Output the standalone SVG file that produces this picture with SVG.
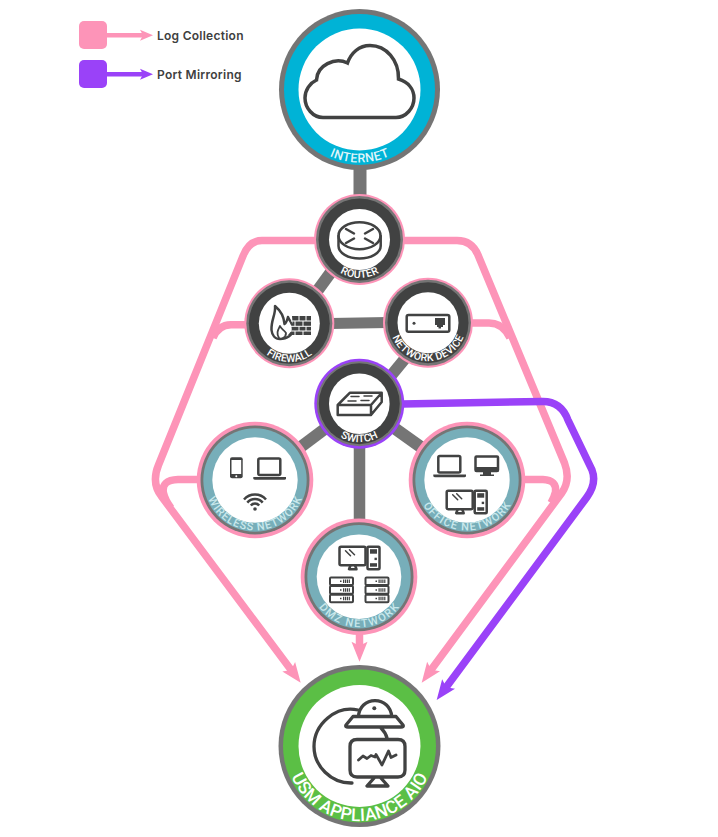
<svg xmlns="http://www.w3.org/2000/svg" width="718" height="837" viewBox="0 0 718 837">
<style>
.bg{fill:#fff}
.pk{fill:#fd94b8}.pu{fill:#9a42f8}.gr{fill:#757575}.dk{fill:#414242}.te{fill:#77aeb9}.wh{fill:#fff}
.cy{fill:#00b3d6}.gn{fill:#5bbf45}
.lp{fill:none;stroke:#fd94b8;stroke-width:7.500}
.lv{fill:none;stroke:#9a42f8;stroke-width:7.500}
.lg{fill:none;stroke:#757575}
.ic{fill:none;stroke:#414242;stroke-width:2.500;stroke-linejoin:round;stroke-linecap:round}
.if{fill:#414242;stroke:none}
.ck{font-family:"Roboto","Liberation Sans",sans-serif;font-weight:500;text-anchor:middle}
.lt{font-family:"Inter","Liberation Sans",sans-serif;font-weight:600;font-size:12px;fill:#3f3f3f}
.tw{fill:#fff;font-size:10.500px}
.tt{fill:#c9e8ec;font-size:11px}
</style>
<defs>
<marker id="hp" markerUnits="userSpaceOnUse" markerWidth="24" markerHeight="20" refX="5" refY="8" orient="auto" overflow="visible"><path d="M20,8L0,0L4,8L0,16Z" fill="#fd94b8"/></marker>
<marker id="hv" markerUnits="userSpaceOnUse" markerWidth="24" markerHeight="20" refX="5" refY="8" orient="auto" overflow="visible"><path d="M20,8L0,0L4,8L0,16Z" fill="#9a42f8"/></marker>
<marker id="lp" markerUnits="userSpaceOnUse" markerWidth="16" markerHeight="14" refX="3" refY="6" orient="auto" overflow="visible"><path d="M13,6L0,0.500L3,6L0,11.500Z" fill="#fd94b8"/></marker>
<marker id="lv" markerUnits="userSpaceOnUse" markerWidth="16" markerHeight="14" refX="3" refY="6" orient="auto" overflow="visible"><path d="M13,6L0,0.500L3,6L0,11.500Z" fill="#9a42f8"/></marker>
<path id="a-int" d="M359.500,16.500A73,73 0 0 0 359.500,162.500A73,73 0 0 0 359.500,16.500"/>
<path id="a-rou" d="M359.500,201A38.500,38.500 0 0 0 359.500,278A38.500,38.500 0 0 0 359.500,201"/>
<path id="a-fir" d="M289.300,285A38.500,38.500 0 0 0 289.300,362A38.500,38.500 0 0 0 289.300,285"/>
<path id="a-net" d="M428,284.200A38.500,38.500 0 0 0 428,361.200A38.500,38.500 0 0 0 428,284.200"/>
<path id="a-swi" d="M359.300,365.200A38.500,38.500 0 0 0 359.300,442.200A38.500,38.500 0 0 0 359.300,365.200"/>
<path id="a-wir" d="M255,429.500A50.500,50.500 0 0 0 255,530.500A50.500,50.500 0 0 0 255,429.500"/>
<path id="a-off" d="M467,429.500A50.500,50.500 0 0 0 467,530.500A50.500,50.500 0 0 0 467,429.500"/>
<path id="a-dmz" d="M359,526.200A50.500,50.500 0 0 0 359,627.200A50.500,50.500 0 0 0 359,526.200"/>
<path id="a-usm" d="M359.500,671A75,75 0 0 0 359.500,821A75,75 0 0 0 359.500,671"/>
<g id="laptop"><rect class="ic" x="5" y="0" width="22" height="16.500" rx="1.500"/><path class="if" d="M0,18.500H32.700V20Q32.700,21.200 31,21.200H2Q0,21.200 0,20Z"/></g>
<g id="pc"><rect class="ic" x="0" y="0" width="26" height="18.500" rx="1.500"/><path class="ic" style="stroke-width:1.500" d="M6,4L11,9M10,3L15,8"/><path class="ic" d="M11,18.500L9.500,22.500H17L15.500,18.500"/><rect class="ic" x="28" y="0" width="12" height="22.500" rx="1"/><rect class="if" x="30.500" y="2.500" width="7" height="4.500"/><rect class="if" x="35" y="11" width="2.400" height="2.400"/><rect class="if" x="30.500" y="16.500" width="7" height="3.500"/></g>
<g id="rack"><rect class="ic" style="stroke-width:2" x="0" y="0" width="23" height="7.600" rx="1"/><rect class="ic" style="stroke-width:2" x="0" y="8.600" width="23" height="7.600" rx="1"/><rect class="ic" style="stroke-width:2" x="0" y="17.200" width="23" height="7.600" rx="1"/><path d="M13,3.800H20.500M13,12.400H20.500M13,21H20.500" stroke="#414242" stroke-width="3.500" stroke-dasharray="1.200,.700" fill="none"/><path d="M10,3.800H11.500M10,12.400H11.500M10,21H11.500" stroke="#414242" stroke-width="1.500" fill="none"/></g>
</defs>
<rect class="bg" width="718" height="837"/>
<g id="connectors">
<path class="lg" stroke-width="13" d="M360,165V200"/>
<path class="lg" stroke-width="12" d="M334,268L315,294"/>
<path class="lg" stroke-width="11" d="M330,323.400L388,322.600"/>
<path class="lg" stroke-width="11.500" d="M408,355L385,383"/>
<path class="lg" stroke-width="12" d="M330,425L290,455"/>
<path class="lg" stroke-width="12" d="M390,425L432,455"/>
<path class="lg" stroke-width="11.500" d="M359.500,445V522"/>
<path class="lp" d="M320,240.500H262Q249,240.500 243,256L158.500,465Q151,483 161.700,496.700L291.700,670.700" marker-end="url(#hp)"/>
<path class="lp" d="M248,324.700H231Q218,325 213,338"/>
<path class="lp" d="M200,479.500H178Q161,480 163.500,493Q165,500 171,508"/>
<path class="lp" d="M400,240.500H457Q472,240.500 478,255L564.500,463Q571,480 561.700,493L430.600,670.600" marker-end="url(#hp)"/>
<path class="lp" d="M470,323H489Q503,323 510,338"/>
<path class="lp" d="M522,479.500H543Q557,480 555.500,492Q554,498 551,503"/>
<path class="lp" d="M359.500,633V646.700" marker-end="url(#hp)"/>
<path class="lv" d="M402,404L543,401.500Q561,401.500 568,420L592,470Q597,483 587,497L445.600,688" marker-end="url(#hv)"/>
</g>
<g id="legend-log"><rect class="pk" x="79" y="21" width="28" height="28" rx="5"/><path class="lp" style="stroke-width:4.500" d="M107,35.300H143" marker-end="url(#lp)"/><text class="lt" x="157" y="39.800" textLength="86.500">Log Collection</text></g>
<g id="legend-mirror"><rect class="pu" x="79" y="60" width="28" height="28" rx="5"/><path class="lv" style="stroke-width:4.500" d="M107,74.300H143" marker-end="url(#lv)"/><text class="lt" x="157" y="78.800" textLength="84.500">Port Mirroring</text></g>
<g id="internet"><circle class="gr" cx="359.500" cy="89.500" r="80.500"/><circle class="cy" cx="359.500" cy="89.500" r="75.500"/><circle class="wh" cx="359.500" cy="89.500" r="61"/>
<path fill="none" stroke="#414242" stroke-width="3.500" d="M323,117.500H396C406,117.500 414,108 414,98C414,89 408,82 398.500,79C399,60 386,45.500 370,45.500C359,45.500 351,53 347.500,63C335,57 317,65 316.500,80C310,83 305,90 305,98C305,108 313,117.500 323,117.500Z"/>
<text class="ck" fill="#dff5fa" font-size="12.500"><textPath href="#a-int" startOffset="50%" textLength="62">INTERNET</textPath></text></g>
<g id="router"><circle class="pk" cx="359.500" cy="239.500" r="45.500"/><circle class="gr" cx="359.500" cy="239.500" r="43.500"/><circle class="dk" cx="359.500" cy="239.500" r="41"/><circle class="wh" cx="359.500" cy="239.500" r="30.500"/>
<ellipse class="ic" cx="359.500" cy="235.700" rx="21" ry="13.500"/><path class="ic" d="M338.500,236V246C338.500,253 348,258.500 359.500,258.500C371,258.500 380.700,253 380.700,246V236"/><path class="ic" d="M346,229L354,233.500M373,229L365,233.500M346,243L354,238.500M373,243L365,238.500"/>
<text class="ck tw"><textPath href="#a-rou" startOffset="50%" textLength="41">ROUTER</textPath></text></g>
<g id="firewall"><circle class="pk" cx="289.300" cy="323.300" r="45"/><circle class="gr" cx="289.300" cy="323.300" r="43"/><circle class="dk" cx="289.300" cy="323.300" r="40.500"/><circle class="wh" cx="289.300" cy="323.300" r="30.500"/>
<path class="ic" d="M275,306C276,314 271,320 271.500,330C272,335 275,339 280,339C287,339 293,335 293,329C293,323 290,322 288,317C287,321 286,323 284.500,324C284,317 281,311 275,306Z"/><path class="ic" style="stroke-width:1.800" d="M279,338C276,333 278,330 280,326C281,329 284,330 286,333C286,335 285,337 283,338"/>
<path class="if" d="M292,316H311V335H288L293,329Z"/><path d="M291,321H311M289,326.300H311M288,331H311M299,316V321M306,316V321M295,321V326.300M303,321V326.300M299,326.300V331M306,326.300V331M295,331V335M303,331V335" stroke="#fff" stroke-width="1" fill="none"/>
<text class="ck tw"><textPath href="#a-fir" startOffset="50%" textLength="49">FIREWALL</textPath></text></g>
<g id="network-device"><circle class="pk" cx="428" cy="322.700" r="45"/><circle class="gr" cx="428" cy="322.700" r="43"/><circle class="dk" cx="428" cy="322.700" r="40.500"/><circle class="wh" cx="428" cy="322.700" r="30.500"/>
<rect class="ic" x="406.700" y="315" width="42.600" height="16.700" rx="1.800"/><circle class="if" cx="414" cy="323.300" r="1.500"/><path class="if" d="M435,318H445V325H443V327H441V328.500H438.500V327H437V325H435Z"/>
<text class="ck tw"><textPath href="#a-net" startOffset="50%" textLength="91">NETWORK DEVICE</textPath></text></g>
<g id="switch"><circle class="pu" cx="359.300" cy="403.700" r="45"/><circle class="gr" cx="359.300" cy="403.700" r="42.500"/><circle class="dk" cx="359.300" cy="403.700" r="40.500"/><circle class="wh" cx="359.300" cy="403.700" r="30.300"/>
<path class="ic" d="M350,392.700H381.700L371,405H337.700ZM337.700,405V415H371V405M371,415L381.700,402V392.700"/><path class="ic" style="stroke-width:1.500" d="M351,396.500H359M364,396H372M348,401H356M361,400.500H369"/>
<text class="ck tw"><textPath href="#a-swi" startOffset="50%" textLength="39.500">SWITCH</textPath></text></g>
<g id="wireless-network"><circle class="pk" cx="255" cy="480" r="58.300"/><circle class="gr" cx="255" cy="480" r="54.500"/><circle class="te" cx="255" cy="480" r="51.700"/><circle class="wh" cx="255" cy="480" r="42.700"/>
<rect class="if" x="230" y="457.300" width="12.700" height="21" rx="2"/><rect class="wh" x="231.500" y="460" width="9.700" height="14"/><circle class="wh" cx="236.300" cy="476.300" r="1"/>
<use href="#laptop" x="253.300" y="458.500"/>
<circle class="if" cx="255" cy="509" r="1.800"/><path fill="none" stroke="#414242" stroke-width="2.500" d="M250.800,505.500A5.500,5.500 0 0 1 259.200,505.500M247.300,502.600A10,10 0 0 1 262.700,502.600M244,499.500A14.500,14.500 0 0 1 266,499.500"/>
<text class="ck tt"><textPath href="#a-wir" startOffset="50%" textLength="120">WIRELESS NETWORK</textPath></text></g>
<g id="office-network"><circle class="pk" cx="467" cy="480" r="58.300"/><circle class="gr" cx="467" cy="480" r="54.500"/><circle class="te" cx="467" cy="480" r="51.700"/><circle class="wh" cx="467" cy="480" r="42.700"/>
<use href="#laptop" x="433.300" y="456"/>
<rect class="ic" x="475.500" y="456.500" width="22.500" height="14.500" rx="1"/><path class="if" d="M475,467H498.500V471.500H491V474.500H494V476H480V474.500H483V471.500H475Z"/>
<use href="#pc" x="446.700" y="490.700"/>
<text class="ck tt"><textPath href="#a-off" startOffset="50%" textLength="106">OFFICE NETWORK</textPath></text></g>
<g id="dmz-network"><circle class="pk" cx="359" cy="576.700" r="58.300"/><circle class="gr" cx="359" cy="576.700" r="54.500"/><circle class="te" cx="359" cy="576.700" r="51.700"/><circle class="wh" cx="359" cy="576.700" r="42.300"/>
<use href="#pc" x="339.500" y="546.700"/><use href="#rack" x="330" y="577.500"/><use href="#rack" x="365.500" y="577.500"/>
<text class="ck tt"><textPath href="#a-dmz" startOffset="50%" textLength="93">DMZ NETWORK</textPath></text></g>
<g id="usm-appliance"><circle class="gr" cx="359.500" cy="746" r="81"/><circle class="gn" cx="359.500" cy="746" r="76.500"/><circle class="wh" cx="359.500" cy="746" r="61"/>
<path fill="none" stroke="#414242" stroke-width="3.300" stroke-linecap="round" stroke-linejoin="round" d="M358,710C336,705 314,724 314,746.500C314,766 331,783.500 352,783M381,728C384,731 386,734 387,738M358.500,716.500C359,707 366,700.700 375,700.700C384,700.700 391,707 391.700,716.500M353,716.500H396L403,725Q404,727 401,727H348Q345,727 346,725ZM357,739.500H398Q405,739.500 405,746.500V770Q405,777 398,777H357Q350,777 350,770V746.500Q350,739.500 357,739.500ZM375,777L367,786H388L380,777"/><circle class="if" cx="374.300" cy="708.300" r="2"/>
<path fill="none" stroke="#414242" stroke-width="2.800" stroke-linecap="round" stroke-linejoin="round" d="M358.500,760L363,756L367,758.500L371,755.500L375,757L376,754.500L382,765L388.500,751L391,757.500L396,755"/>
<text class="ck" fill="#fff" font-size="17.500" font-weight="700"><textPath href="#a-usm" startOffset="50%" textLength="172">USM APPLIANCE AIO</textPath></text></g>
</svg>
